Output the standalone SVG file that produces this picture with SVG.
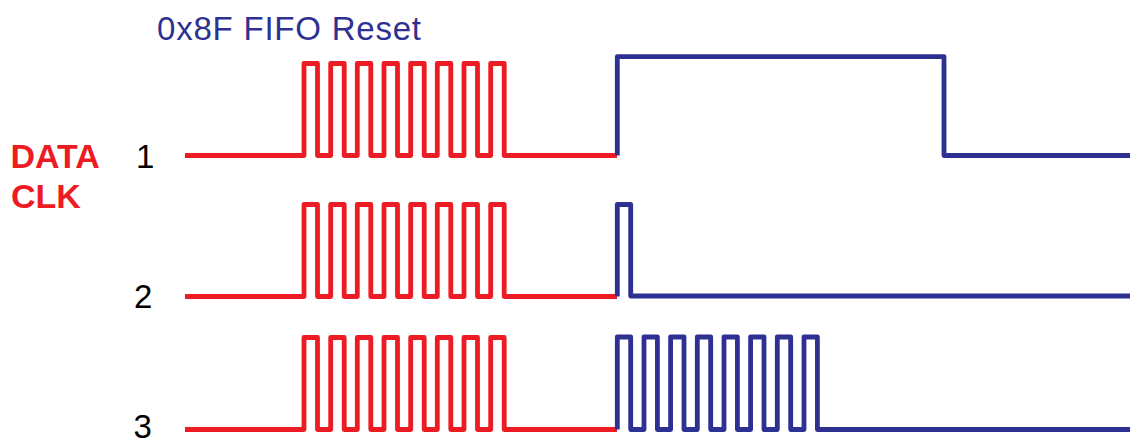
<svg xmlns="http://www.w3.org/2000/svg" xmlns:xlink="http://www.w3.org/1999/xlink" width="1133" height="441" viewBox="0 0 1133 441">
  <style>
    .red { fill: none; stroke: #ED1C24; stroke-width: 4.8; stroke-linejoin: round; }
    .blue { fill: none; stroke: #2E3192; stroke-width: 4.8; stroke-linejoin: round; }
    .num { font-family: "Liberation Sans", Arial, sans-serif; font-size: 33px; fill: #000000; }
    .lbl { font-family: "Liberation Sans", Arial, sans-serif; font-size: 34px; font-weight: bold; fill: #ED1C24; }
    .title { font-family: "Liberation Sans", Arial, sans-serif; font-size: 33px; fill: #2E3192; }
  </style>
  <defs>
    <path id="redTrain" class="red" d="M185,155.5 H304 V63.5 H317.5 V155.5 H330.7 V63.5 H344.2 V155.5 H357.3 V63.5 H370.8 V155.5 H384 V63.5 H397.5 V155.5 H410.7 V63.5 H424.2 V155.5 H437.3 V63.5 H450.8 V155.5 H464 V63.5 H477.5 V155.5 H490.7 V63.5 H504.2 V155.5 H617"/>
  </defs>

  <text class="title" x="157" y="40" textLength="264" lengthAdjust="spacing">0x8F FIFO Reset</text>

  <g id="labels">
    <text class="lbl" x="10.5" y="168.3">DATA</text>
    <text class="lbl" x="11" y="208.3">CLK</text>
    <text class="num" x="136" y="168.3">1</text>
    <text class="num" x="134" y="308.3">2</text>
    <text class="num" x="133.5" y="438.3">3</text>
  </g>

  <g id="row1">
    <use xlink:href="#redTrain"/>
    <path class="blue" d="M617.3,155.5 V56.7 H944 V155.5 H1130"/>
  </g>

  <g id="row2">
    <use xlink:href="#redTrain" transform="translate(0,141)"/>
    <path class="blue" d="M617.3,296.5 V204.5 H630.7 V296 H1130"/>
  </g>

  <g id="row3">
    <use xlink:href="#redTrain" transform="translate(0,274)"/>
    <path class="blue" d="M617.3,429.5 V337 H630.7 V429.5 H644 V337 H657.4 V429.5 H670.6 V337 H684 V429.5 H697.3 V337 H710.7 V429.5 H724 V337 H737.4 V429.5 H750.6 V337 H764 V429.5 H777.3 V337 H790.7 V429.5 H804 V337 H817.4 V429.5 H1130"/>
  </g>
</svg>
